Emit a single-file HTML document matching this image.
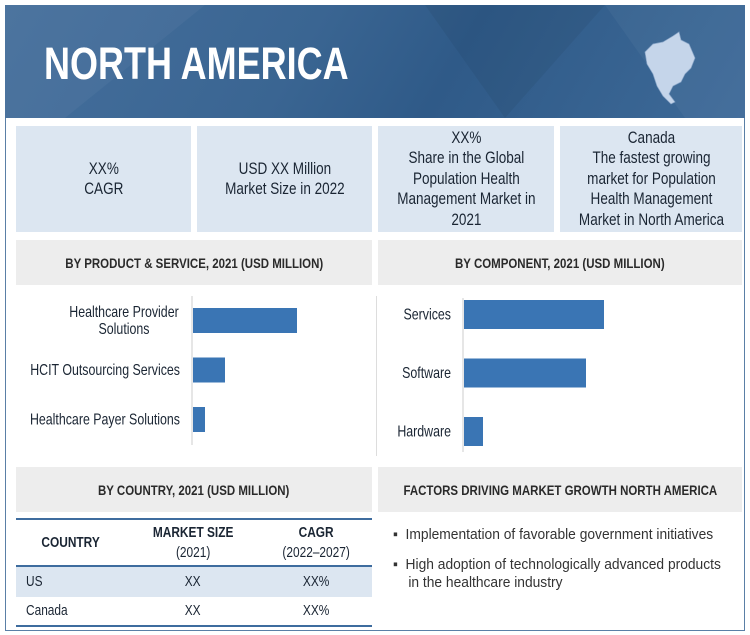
<!DOCTYPE html>
<html><head><meta charset="utf-8"><style>
*{margin:0;padding:0;box-sizing:border-box}
body{width:750px;height:635px;background:#fff;position:relative;overflow:hidden;font-family:"Liberation Sans",sans-serif;color:#222}
.a{position:absolute}
.n{display:inline-block;transform:scaleX(.82);white-space:nowrap}
.box{position:absolute;background:#dce6f1;display:flex;align-items:center;justify-content:center;text-align:center;font-size:16.5px;line-height:20.5px;color:#1a2533}
.sh{position:absolute;background:#ededed;display:flex;align-items:center;justify-content:center;font-size:14px;font-weight:bold;color:#2a2a2a}
td,th{font-size:14.5px;color:#1a2533}
</style></head><body>
<div class="a" style="left:5px;top:5px;width:740px;height:626px;border:1.5px solid #5a7fa6"></div>
<div class="a" style="left:5px;top:5px;width:740px;height:113px;background:linear-gradient(120deg,#456f9c 0%,#3a6592 40%,#2f5a88 60%,#3e6a98 100%)">
<svg width="740" height="113" style="position:absolute;left:0;top:0"><polygon points="0,0 200,0 60,113 0,113" fill="#fff" opacity="0.04"/><polygon points="420,0 600,0 500,113" fill="#000" opacity="0.05"/><polygon points="600,0 740,0 740,113 680,113" fill="#fff" opacity="0.04"/></svg>
<div class="a" style="left:39px;top:33px;font-size:45px;font-weight:bold;color:#fff;transform:scaleX(.8);transform-origin:left;white-space:nowrap">NORTH AMERICA</div>
<svg class="a" style="left:638px;top:25px" width="60" height="80"><path d="M20,12 L30,6 L36,2 L38,10 L46,14 L52,28 L48,38 L42,44 L38,52 L30,56 L26,64 L32,72 L28,74 L20,66 L14,56 L10,44 L4,34 L2,22 L10,14 Z" fill="#c5d5ea" stroke="#8aa6c8" stroke-width="0.7"/></svg>
</div>
<div class="box" style="left:16px;top:126px;width:175px;height:106px"><span class="n">XX%<br>CAGR</span></div>
<div class="box" style="left:197px;top:126px;width:175px;height:106px"><span class="n">USD XX Million<br>Market Size in 2022</span></div>
<div class="box" style="left:378px;top:126px;width:176px;height:106px"><span class="n">XX%<br>Share in the Global<br>Population Health<br>Management Market in<br>2021</span></div>
<div class="box" style="left:560px;top:126px;width:182px;height:106px"><span class="n">Canada<br>The fastest growing<br>market for Population<br>Health Management<br>Market in North America</span></div>
<div class="sh" style="left:16px;top:240px;width:356px;height:45px"><span class="n">BY PRODUCT &amp; SERVICE, 2021 (USD MILLION)</span></div>
<div class="sh" style="left:378px;top:240px;width:364px;height:45px"><span class="n">BY COMPONENT, 2021 (USD MILLION)</span></div>
<svg class="a" id="c1" style="left:0;top:290px" width="375" height="170"></svg>
<div class="a" style="left:376px;top:296px;width:1px;height:160px;background:#ddd"></div>
<svg class="a" id="c2" style="left:378px;top:290px" width="364" height="170"></svg>
<div class="sh" style="left:16px;top:467px;width:356px;height:45px"><span class="n">BY COUNTRY, 2021 (USD MILLION)</span></div>
<div class="sh" style="left:378px;top:467px;width:364px;height:45px"><span class="n">FACTORS DRIVING MARKET GROWTH NORTH AMERICA</span></div>
<table class="a" style="left:16px;top:518px;width:356px;border-collapse:collapse;border-top:2px solid #3e6c9e;border-bottom:2px solid #3e6c9e">
<tr style="height:47px;border-bottom:2px solid #3e6c9e"><th style="width:110px;font-weight:bold"><span class="n">COUNTRY</span></th><th style="font-weight:bold;line-height:20px"><span class="n">MARKET SIZE<br><span style="font-weight:normal">(2021)</span></span></th><th style="font-weight:bold;line-height:20px"><span class="n">CAGR<br><span style="font-weight:normal">(2022–2027)</span></span></th></tr>
<tr style="height:31px;background:#dce6f1"><td style="padding-left:10px"><span class="n" style="transform-origin:left">US</span></td><td style="text-align:center"><span class="n">XX</span></td><td style="text-align:center"><span class="n">XX%</span></td></tr>
<tr style="height:29px"><td style="padding-left:10px"><span class="n" style="transform-origin:left">Canada</span></td><td style="text-align:center"><span class="n">XX</span></td><td style="text-align:center"><span class="n">XX%</span></td></tr>
</table>
<div class="a" style="left:393px;top:526px;font-size:15px;color:#333;transform:scaleX(.92);transform-origin:left;white-space:nowrap">▪&nbsp; Implementation of favorable government initiatives</div>
<div class="a" style="left:393px;top:556px;font-size:15px;color:#333;line-height:18px;transform:scaleX(.92);transform-origin:left;white-space:nowrap">▪&nbsp; High adoption of technologically advanced products<br>&nbsp;&nbsp;&nbsp;&nbsp;in the healthcare industry</div>
<script>
const psCategories=[["Healthcare Provider","Solutions"],["HCIT Outsourcing Services"],["Healthcare Payer Solutions"]];
const psValues=[52,16,6];
const compCategories=[["Services"],["Software"],["Hardware"]];
const compValues=[70,61,9.5];
const NS="http://www.w3.org/2000/svg";
function mk(t,a){const e=document.createElementNS(NS,t);for(const k in a)e.setAttribute(k,a[k]);return e;}
function draw(svg,cats,vals,axisX,top,step,bh,y0,y1,scale,names){
 const ax=mk('line',{x1:axisX,x2:axisX,y1:y0,y2:y1,stroke:'#ccc'});
 
 
 svg.appendChild(ax);
 cats.forEach((c,i)=>{
  const cy=top+i*step;
  const r=mk('rect',{x:axisX+1,y:cy-bh/2,width:vals[i]*scale,height:bh,fill:'#3a75b4'});
  
  
  svg.appendChild(r);
  c.forEach((l,j)=>{
   const t=mk('text',{x:0,y:0,'text-anchor':(c.length>1?'middle':'end'),'font-size':15.5,fill:'#1a2533','font-family':'"Liberation Sans",sans-serif',
     transform:'translate('+(c.length>1?axisX-68:axisX-12)+','+(cy+5+(j-(c.length-1)/2)*17)+') scale(0.8,1)'});
   
   
   t.textContent=l;svg.appendChild(t);
  });
 });
}
draw(document.getElementById('c1'),psCategories,psValues,192,30.5,49.5,25,6,155,2,['provider','hcit','payer']);
draw(document.getElementById('c2'),compCategories,compValues,85,24.5,58.5,29,8,162,2,['services','software','hardware']);
</script>
</body></html>
